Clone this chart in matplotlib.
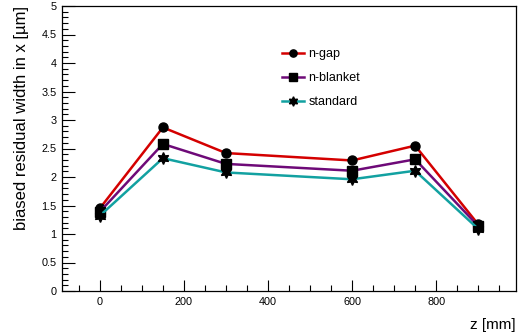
import matplotlib
matplotlib.use("Agg")
import matplotlib.pyplot as plt
from matplotlib.ticker import MultipleLocator

z = [0, 150, 300, 600, 750, 900]
n_gap = [1.45, 2.87, 2.42, 2.29, 2.55, 1.17]
n_blanket = [1.39, 2.58, 2.23, 2.11, 2.31, 1.14]
standard = [1.32, 2.33, 2.08, 1.96, 2.11, 1.09]
labels = ["n-gap", "n-blanket", "standard"]
colors = ["#d40000", "#6e0a78", "#12a1a1"]
markers = ["o", "s", (6, 1, 0)]

plt.rcParams["font.family"] = ["Liberation Sans", "DejaVu Sans"]

fig = plt.figure(figsize=(5.18, 3.33), dpi=100)
ax = fig.add_axes([62 / 518, 1 - 291 / 333, (516 - 62) / 518, (291 - 6) / 333])

for y, lab, c, m in zip([n_gap, n_blanket, standard], labels, colors, markers):
    ms = 8.5 if m == (6, 1, 0) else 6.5
    ax.plot(z, y, color=c, lw=1.8, marker=m, ms=ms, mfc="black", mec="black", label=lab)

ax.set_xlim(-90, 990)
ax.set_ylim(0, 5)
ax.xaxis.set_major_locator(MultipleLocator(200))
ax.xaxis.set_minor_locator(MultipleLocator(50))
ax.yaxis.set_minor_locator(MultipleLocator(0.1))
ax.set_yticks([0, 0.5, 1, 1.5, 2, 2.5, 3, 3.5, 4, 4.5, 5])
ax.set_yticklabels(["0", "0.5", "1", "1.5", "2", "2.5", "3", "3.5", "4", "4.5", "5"])
ax.tick_params(which="major", direction="in", length=9, width=0.8, labelsize=7.8, pad=4)
ax.tick_params(which="minor", direction="in", length=4.5, width=0.8)
ax.tick_params(axis="x", which="major", length=8)
for s in ax.spines.values():
    s.set_linewidth(0.9)

ax.set_xlabel("z [mm]", fontsize=11, loc="right", labelpad=8)
ax.set_ylabel("biased residual width in x [µm]", fontsize=12, loc="top", labelpad=9)

ax.legend(loc="upper left", bbox_to_anchor=(282 / 518, 1 - 48.5 / 333),
          bbox_transform=fig.transFigure, frameon=False, fontsize=9,
          handlelength=1.75, handletextpad=0.35, labelspacing=0.95,
          borderaxespad=0, borderpad=0, markerscale=0.8)

fig.savefig("out.png", dpi=100)
